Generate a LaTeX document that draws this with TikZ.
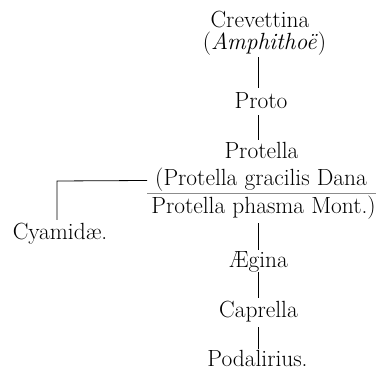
\documentclass[tikz,border=0pt]{standalone}
\usepackage{fontspec}
\begin{document}
\begin{tikzpicture}[x=1pt,y=1pt,
  lbl/.style={anchor=base,inner sep=0pt,text height=16pt,text depth=5pt,
    font=\fontsize{23.4}{28}\selectfont},
  conn/.style={line width=0.8pt},
  rulel/.style={line width=0.5pt,black!45}]
\useasboundingbox (0,0) rectangle (382,371);
\coordinate (col) at (258.5,0);
\node[lbl,text depth=0pt] (crev) at (260,343.5) {Crevettina};
\node[lbl,text height=14pt] (amph) at (264.5,321.5) {(\textit{Amphithoë})};
\node[lbl] (proto) at (261,262) {Proto};
\node[lbl] (protella) at (261.5,212) {Protella};
\node[lbl] (grac) at (261,185) {(Protella gracilis Dana};
\node[lbl] (phas) at (263.5,157) {Protella phasma Mont.)};
\node[lbl] (cyam) at (60,131) {Cyamidæ.};
\node[lbl] (aeg) at (258.5,103) {Ægina};
\node[lbl] (capr) at (258.5,53) {Caprella};
\node[lbl,text depth=0pt] (podal) at (257.5,4) {Podalirius.};
\coordinate (cbr) at (57,190);
\draw[conn] ([yshift=-2.5pt]amph.south -| col) -- ([yshift=5pt]proto.north -| col);
\draw[conn] ([yshift=-1pt]proto.south -| col) -- ([yshift=3pt]protella.north -| col);
\draw[conn] ([yshift=-4pt]phas.south -| col) -- ([yshift=2pt]aeg.north -| col);
\draw[conn] ([yshift=1pt]aeg.south -| col) -- ([yshift=4pt]capr.north -| col);
\draw[conn] ([yshift=-4pt]capr.south -| col) -- ([yshift=2pt]podal.north -| col);
\draw[conn] ([xshift=-8pt]grac.west) -- (cbr) -- ([yshift=4pt]cbr |- cyam.north);
\draw[rulel] ([xshift=-8pt,yshift=-2pt]grac.south west) -- ([yshift=-2pt]grac.south west -| phas.east);
\end{tikzpicture}
\end{document}
